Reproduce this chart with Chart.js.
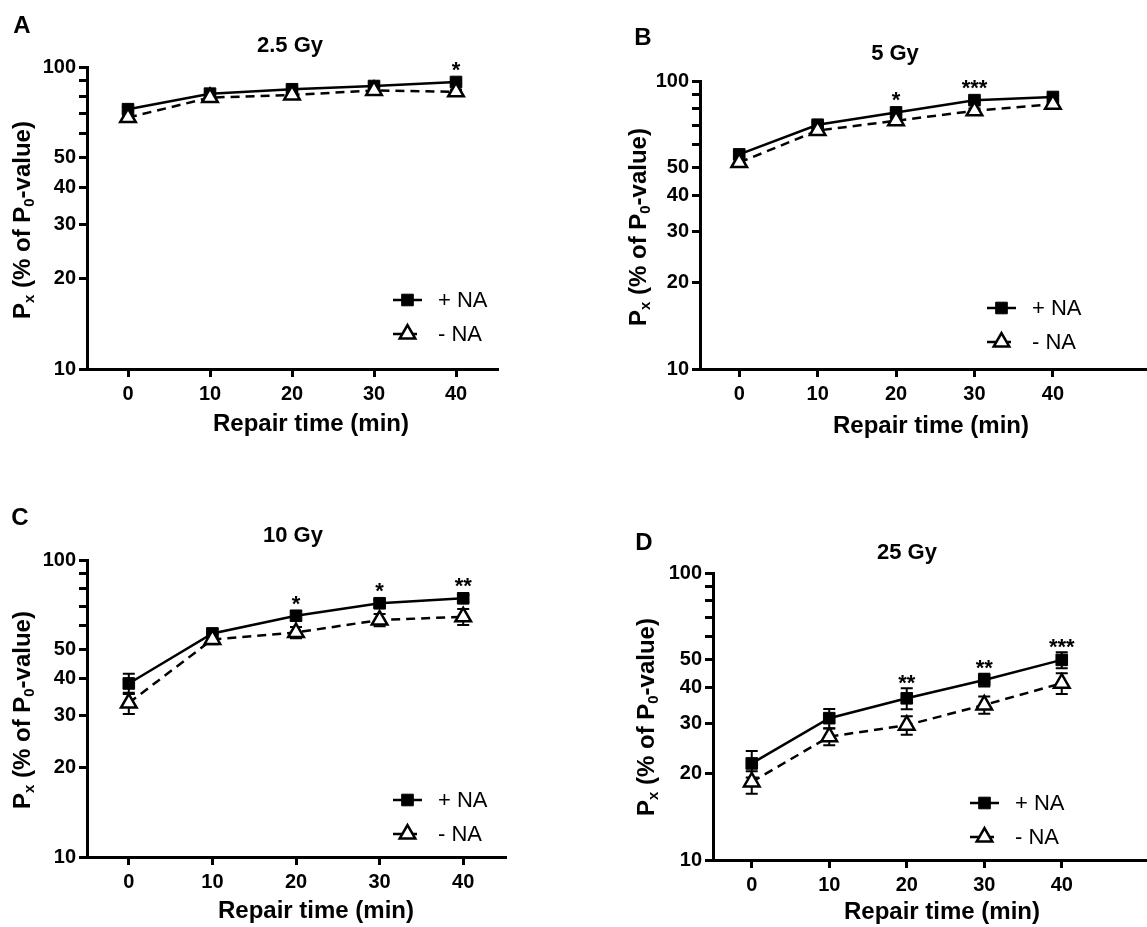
<!DOCTYPE html>
<html>
<head>
<meta charset="utf-8">
<title>Repair time panels</title>
<script src="https://cdn.jsdelivr.net/npm/chart.js@4.4.1/dist/chart.umd.min.js"></script>
<style>
  html, body { margin: 0; padding: 0; background: #fff; overflow: hidden; }
  body { width: 1147px; height: 927px; position: relative; font-family: "Liberation Sans", Arial, Helvetica, sans-serif; color: #000; }
  canvas { position: absolute; }
  .txt { position: absolute; transform: translate(-50%, -50%); white-space: nowrap; font-weight: bold; line-height: 1; }
  .letter { font-size: 24px; }
  .title { font-size: 22px; }
  .xtitle { font-size: 24px; }
  .ytitle { font-size: 24px; transform: translate(-50%, -50%) rotate(-90deg); }
  .ytitle sub { font-size: 62%; vertical-align: -0.3em; line-height: 0; }
</style>
</head>
<body>
<canvas id="chartA" width="560" height="460" style="left:0;top:0"></canvas>
<canvas id="chartB" width="577" height="460" style="left:570px;top:0"></canvas>
<canvas id="chartC" width="560" height="457" style="left:0;top:470px"></canvas>
<canvas id="chartD" width="577" height="457" style="left:570px;top:470px"></canvas>

<div class="txt letter" style="left:22px;top:25px">A</div>
<div class="txt letter" style="left:643px;top:37px">B</div>
<div class="txt letter" style="left:20px;top:517px">C</div>
<div class="txt letter" style="left:644px;top:542px">D</div>

<div class="txt title" style="left:290px;top:45px">2.5 Gy</div>
<div class="txt title" style="left:895px;top:53px">5 Gy</div>
<div class="txt title" style="left:293px;top:535px">10 Gy</div>
<div class="txt title" style="left:907px;top:552px">25 Gy</div>

<div class="txt xtitle" style="left:311px;top:423px">Repair time (min)</div>
<div class="txt xtitle" style="left:931px;top:425px">Repair time (min)</div>
<div class="txt xtitle" style="left:316px;top:910px">Repair time (min)</div>
<div class="txt xtitle" style="left:942px;top:911px">Repair time (min)</div>

<div class="txt ytitle" style="left:22px;top:220px">P<sub>x</sub> (% of P<sub>0</sub>-value)</div>
<div class="txt ytitle" style="left:638px;top:227px">P<sub>x</sub> (% of P<sub>0</sub>-value)</div>
<div class="txt ytitle" style="left:22px;top:710px">P<sub>x</sub> (% of P<sub>0</sub>-value)</div>
<div class="txt ytitle" style="left:646px;top:717px">P<sub>x</sub> (% of P<sub>0</sub>-value)</div>

<script>
// Data
const repairTimes = [0, 10, 20, 30, 40];
const xTicks = [0, 10, 20, 30, 40];
const yTicks = [10, 20, 30, 40, 50, 60, 70, 80, 90, 100];
const yLabels = [10, 20, 30, 40, 50, 100];
const seriesLabels = ["+ NA", "- NA"];

// A: 2.5 Gy
const plusA = [72.5, 81.6, 84.4, 86.5, 89.2];
const plusErrA = [1.2, 1.0, 1.0, 1.0, 1.2];
const minusA = [68.0, 79.2, 80.8, 83.6, 82.8];
const minusErrA = [1.2, 1.0, 1.2, 1.0, 1.2];
const starsA = ["", "", "", "", "*"];

// B: 5 Gy
const plusB = [55.6, 70.5, 77.8, 85.8, 88.0];
const plusErrB = [1.5, 1.5, 1.2, 1.2, 1.2];
const minusB = [52.1, 67.3, 72.8, 78.8, 83.1];
const minusErrB = [1.5, 1.5, 1.5, 1.5, 1.2];
const starsB = ["", "", "*", "***", ""];

// C: 10 Gy
const plusC = [38.4, 56.6, 64.9, 71.5, 74.3];
const plusErrC = [3.0, 2.0, 2.5, 2.0, 2.0];
const minusC = [33.0, 54.0, 57.0, 62.8, 64.4];
const minusErrC = [2.7, 2.0, 2.5, 3.0, 4.0];
const starsC = ["", "", "*", "*", "**"];

// D: 25 Gy
const plusD = [21.7, 31.2, 36.6, 42.4, 49.8];
const plusErrD = [2.3, 2.4, 3.1, 2.2, 3.2];
const minusD = [18.7, 26.9, 29.5, 34.7, 41.3];
const minusErrD = [1.7, 1.8, 2.2, 2.4, 3.4];
const starsD = ["", "", "**", "**", "***"];

const panels = [
  { canvas: "chartA", left: 0, top: 0, plus: plusA, plusErr: plusErrA, minus: minusA, minusErr: minusErrA, stars: starsA,
    xMax: 45, pad: { left: 7, top: 67, right: 63, bottom: 21 }, xAxisHeight: 70, legend: { x: 393, y: 300 } },
  { canvas: "chartB", left: 570, top: 0, plus: plusB, plusErr: plusErrB, minus: minusB, minusErr: minusErrB, stars: starsB,
    xMax: 52, pad: { left: 50, top: 81, right: 0, bottom: 21 }, xAxisHeight: 70, legend: { x: 987, y: 308 } },
  { canvas: "chartC", left: 0, top: 470, plus: plusC, plusErr: plusErrC, minus: minusC, minusErr: minusErrC, stars: starsC,
    xMax: 45, pad: { left: 7, top: 90, right: 55, bottom: 10 }, xAxisHeight: 60, legend: { x: 393, y: 800 } },
  { canvas: "chartD", left: 570, top: 470, plus: plusD, plusErr: plusErrD, minus: minusD, minusErr: minusErrD, stars: starsD,
    xMax: 51, pad: { left: 63, top: 103, right: 0, bottom: 7 }, xAxisHeight: 60, legend: { x: 970, y: 803 } }
];

const FONT = "'Liberation Sans', Arial, Helvetica, sans-serif";
Chart.defaults.font.family = FONT;
Chart.defaults.color = "#000";

// marker drawing (used by the legend)
function drawMarker(ctx, style, radius, x, y){
  if(Chart.helpers && Chart.helpers.drawPoint){
    Chart.helpers.drawPoint(ctx, { pointStyle: style, radius: radius, rotation: 0, borderWidth: ctx.lineWidth }, x, y);
    return;
  }
  ctx.beginPath();
  if(style === "rect"){
    const s = radius * Math.SQRT1_2;
    ctx.rect(x - s, y - s, 2 * s, 2 * s);
  }else{
    ctx.moveTo(x, y - radius);
    ctx.lineTo(x + radius * 0.866, y + radius / 2);
    ctx.lineTo(x - radius * 0.866, y + radius / 2);
    ctx.closePath();
  }
  ctx.fill();
  ctx.stroke();
}

// Error bars (SEM) under the markers
const errorBars = {
  id: "errorBars",
  beforeDatasetsDraw(chart){
    const ctx = chart.ctx, ys = chart.scales.y;
    chart.data.datasets.forEach((ds, di) => {
      const meta = chart.getDatasetMeta(di);
      ctx.save();
      ctx.strokeStyle = "#000";
      ctx.lineWidth = 2;
      meta.data.forEach((pt, i) => {
        const v = ds.data[i].y, e = ds.errors[i];
        const top = ys.getPixelForValue(v + e), bot = ys.getPixelForValue(v - e);
        ctx.beginPath();
        ctx.moveTo(pt.x, top); ctx.lineTo(pt.x, bot);
        ctx.moveTo(pt.x - 6, top); ctx.lineTo(pt.x + 6, top);
        ctx.moveTo(pt.x - 6, bot); ctx.lineTo(pt.x + 6, bot);
        ctx.stroke();
      });
      ctx.restore();
    });
  }
};

// Significance stars above the +NA points
const sigStars = {
  id: "sigStars",
  afterDatasetsDraw(chart){
    const ctx = chart.ctx, ys = chart.scales.y;
    const ds = chart.data.datasets[0];
    const meta = chart.getDatasetMeta(0);
    ctx.save();
    ctx.fillStyle = "#000";
    ctx.font = "bold 22px " + FONT;
    ctx.textAlign = "center";
    ctx.textBaseline = "alphabetic";
    meta.data.forEach((pt, i) => {
      if(!ds.stars[i]) return;
      const v = ds.data[i].y;
      const yTop = Math.min(ys.getPixelForValue(v + ds.errors[i]), pt.y - 7);
      ctx.fillText(ds.stars[i], pt.x, yTop + 2);
    });
    ctx.restore();
  }
};

// Prism style legend: line + marker + label
const sketchLegend = {
  id: "sketchLegend",
  afterDraw(chart, args, opts){
    const ctx = chart.ctx;
    chart.data.datasets.forEach((ds, i) => {
      const y = opts.y + i * 34, x1 = opts.x, x2 = opts.x + 29;
      ctx.save();
      ctx.strokeStyle = "#000";
      ctx.lineWidth = ds.borderWidth;
      ctx.setLineDash(ds.borderDash || []);
      ctx.beginPath(); ctx.moveTo(x1, y); ctx.lineTo(x2, y); ctx.stroke();
      ctx.setLineDash([]);
      ctx.fillStyle = ds.pointBackgroundColor;
      ctx.lineWidth = ds.pointBorderWidth;
      drawMarker(ctx, ds.pointStyle, ds.pointRadius, (x1 + x2) / 2, y);
      ctx.fillStyle = "#000";
      ctx.font = "22px " + FONT;
      ctx.textAlign = "left";
      ctx.textBaseline = "middle";
      ctx.fillText(ds.label, x2 + 16, y + 1);
      ctx.restore();
    });
  }
};

const axisGrid = { display: true, drawOnChartArea: false, drawTicks: true, tickLength: 8, tickWidth: 3, tickColor: "#000", color: "#000", lineWidth: 3 };
const axisBorder = { display: true, width: 3, color: "#000" };
const tickFont = { size: 20, weight: "bold" };

function buildPanel(p){
  const toPoints = arr => arr.map((v, i) => ({ x: repairTimes[i], y: v }));
  const ctx = document.getElementById(p.canvas).getContext("2d");
  return new Chart(ctx, {
    type: "line",
    data: {
      datasets: [
        { label: seriesLabels[0], data: toPoints(p.plus), errors: p.plusErr, stars: p.stars,
          borderColor: "#000", borderWidth: 2.5, tension: 0, order: 1,
          pointStyle: "rect", pointRadius: 8.2, pointBackgroundColor: "#000", pointBorderColor: "#000", pointBorderWidth: 1 },
        { label: seriesLabels[1], data: toPoints(p.minus), errors: p.minusErr, stars: [],
          borderColor: "#000", borderWidth: 2.5, borderDash: [9, 6], tension: 0, order: 0,
          pointStyle: "triangle", pointRadius: 9, pointBackgroundColor: "#fff", pointBorderColor: "#000", pointBorderWidth: 2.5 }
      ]
    },
    options: {
      responsive: false,
      animation: false,
      devicePixelRatio: 1,
      layout: { padding: p.pad, autoPadding: false },
      plugins: {
        legend: { display: false },
        tooltip: { enabled: false },
        sketchLegend: { x: p.legend.x - p.left, y: p.legend.y - p.top }
      },
      scales: {
        x: {
          type: "linear", min: -5, max: p.xMax,
          grid: axisGrid, border: axisBorder,
          ticks: { font: tickFont, padding: 5, autoSkip: false, maxRotation: 0 },
          afterBuildTicks: s => { s.ticks = xTicks.map(v => ({ value: v })); },
          afterFit: s => { s.height = p.xAxisHeight; s.paddingLeft = 0; s.paddingRight = 0; }
        },
        y: {
          type: "logarithmic", min: 10, max: 100,
          grid: axisGrid, border: axisBorder,
          ticks: { font: tickFont, padding: 3, autoSkip: false,
            callback: v => yLabels.includes(v) ? String(v) : "" },
          afterBuildTicks: s => { s.ticks = yTicks.map(v => ({ value: v })); },
          afterFit: s => { s.width = 80; s.paddingTop = 0; s.paddingBottom = 0; }
        }
      }
    },
    plugins: [errorBars, sigStars, sketchLegend]
  });
}

panels.forEach(buildPanel);
</script>
</body>
</html>
